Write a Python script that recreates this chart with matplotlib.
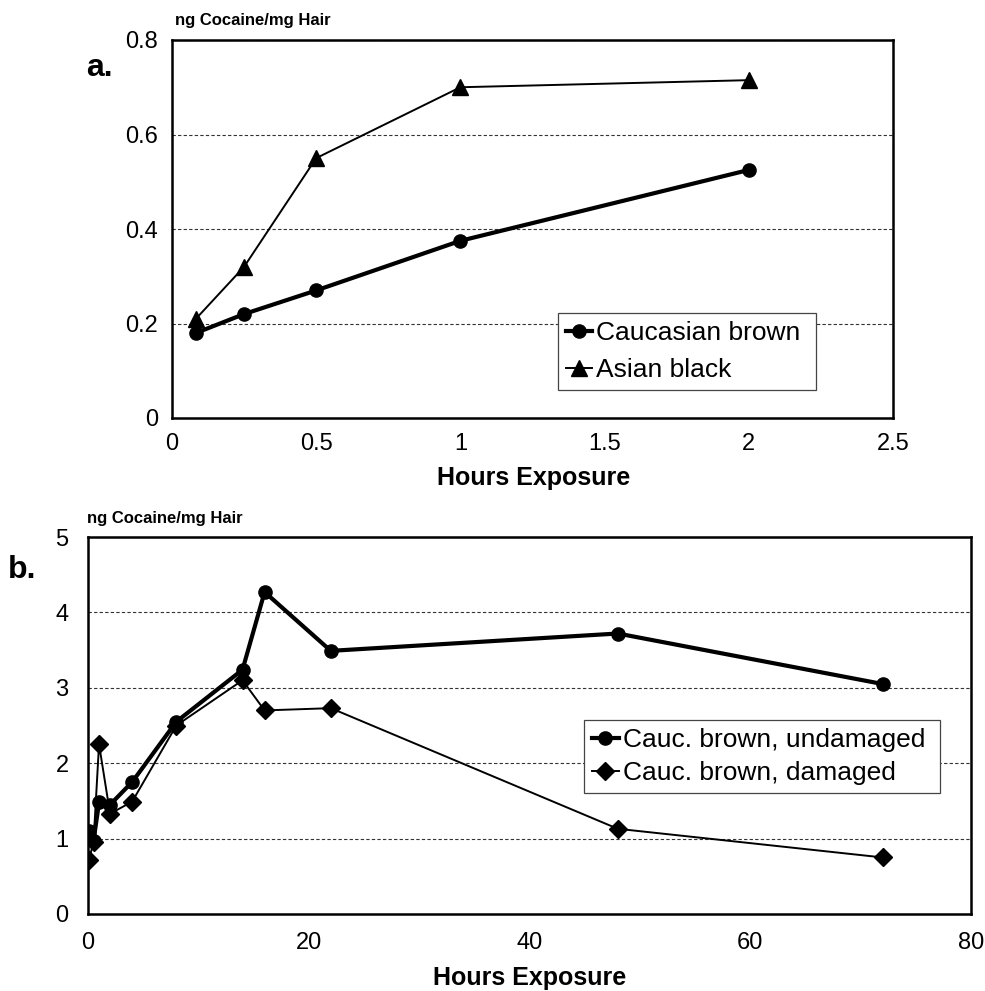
import matplotlib
matplotlib.use("Agg")
import matplotlib.pyplot as plt

plt.rcParams['font.family'] = ['Liberation Sans', 'DejaVu Sans']

# panel a: short exposures
hours_a = [0.083, 0.25, 0.5, 1, 2]
caucasian_brown = [0.18, 0.22, 0.27, 0.375, 0.525]
asian_black = [0.21, 0.32, 0.55, 0.70, 0.715]

# panel b: long exposures
hours_b = [0.083, 0.5, 1, 2, 4, 8, 14, 16, 22, 48, 72]
undamaged = [1.10, 0.97, 1.48, 1.45, 1.75, 2.55, 3.24, 4.27, 3.49, 3.72, 3.05]
damaged = [0.72, 0.95, 2.25, 1.33, 1.49, 2.50, 3.10, 2.70, 2.73, 1.13, 0.75]

xticks_a = [0, 0.5, 1, 1.5, 2, 2.5]
yticks_a = [0, 0.2, 0.4, 0.6, 0.8]
xticks_b = [0, 20, 40, 60, 80]
yticks_b = [0, 1, 2, 3, 4, 5]

W, H = 985, 991
fig = plt.figure(figsize=(W / 100, H / 100), dpi=100)


def px_axes(l, t, r, b):
    return fig.add_axes([l / W, 1 - b / H, (r - l) / W, (b - t) / H])


def style(ax, xt, yt, xpad, ypad):
    ax.set_xticks(xt)
    ax.set_yticks(yt)
    ax.set_xticklabels([('%g' % v) for v in xt])
    ax.set_yticklabels([('%g' % v) for v in yt])
    ax.tick_params(length=0, labelsize=17)
    ax.tick_params(axis='x', pad=xpad)
    ax.tick_params(axis='y', pad=ypad)
    for s in ax.spines.values():
        s.set_linewidth(1.8)
        s.set_color('black')
    ax.yaxis.grid(True, linestyle=(0, (3, 2)), color='#333333', linewidth=0.8)
    ax.set_axisbelow(True)


def legend(ax, anchor, spacing):
    leg = ax.legend(loc='upper left', bbox_to_anchor=anchor, fontsize=19,
                    handlelength=1.0, handletextpad=0.15, borderpad=0.3,
                    labelspacing=spacing, fancybox=False, framealpha=1,
                    edgecolor='#444444', borderaxespad=0)
    leg.get_frame().set_linewidth(0.9)


ax1 = px_axes(172, 40, 893, 418)
ax1.plot(hours_a, caucasian_brown, '-o', color='black', lw=3.0, ms=9.5,
         label='Caucasian brown ')
ax1.plot(hours_a, asian_black, '-^', color='black', lw=1.4, ms=12,
         label='Asian black')
ax1.set_xlim(0, 2.5)
ax1.set_ylim(0, 0.8)
style(ax1, xticks_a, yticks_a, 11, 10)
legend(ax1, (0.535, 0.278), 0.5)

ax2 = px_axes(88, 537, 971, 914)
ax2.plot(hours_b, undamaged, '-o', color='black', lw=3.0, ms=9.5,
         label='Cauc. brown, undamaged ')
ax2.plot(hours_b, damaged, '-D', color='black', lw=1.4, ms=9,
         label='Cauc. brown, damaged')
ax2.set_xlim(0, 80)
ax2.set_ylim(0, 5)
style(ax2, xticks_b, yticks_b, 13, 14)
legend(ax2, (0.562, 0.515), 0.35)

# titles, axis labels and panel letters
fig.text(175 / W, 1 - 20 / H, 'ng Cocaine/mg Hair', fontsize=12,
         fontweight='bold', va='center', ha='left')
fig.text(87 / W, 1 - 518 / H, 'ng Cocaine/mg Hair', fontsize=12,
         fontweight='bold', va='center', ha='left')
fig.text(534 / W, 1 - 478 / H, 'Hours Exposure', fontsize=18,
         fontweight='bold', va='center', ha='center')
fig.text(530 / W, 1 - 978 / H, 'Hours Exposure', fontsize=18,
         fontweight='bold', va='center', ha='center')
fig.text(86 / W, 1 - 68 / H, 'a.', fontsize=23, fontweight='bold',
         va='center', ha='left')
fig.text(8 / W, 1 - 570 / H, 'b.', fontsize=23, fontweight='bold',
         va='center', ha='left')

fig.savefig('out.png', dpi=100)
